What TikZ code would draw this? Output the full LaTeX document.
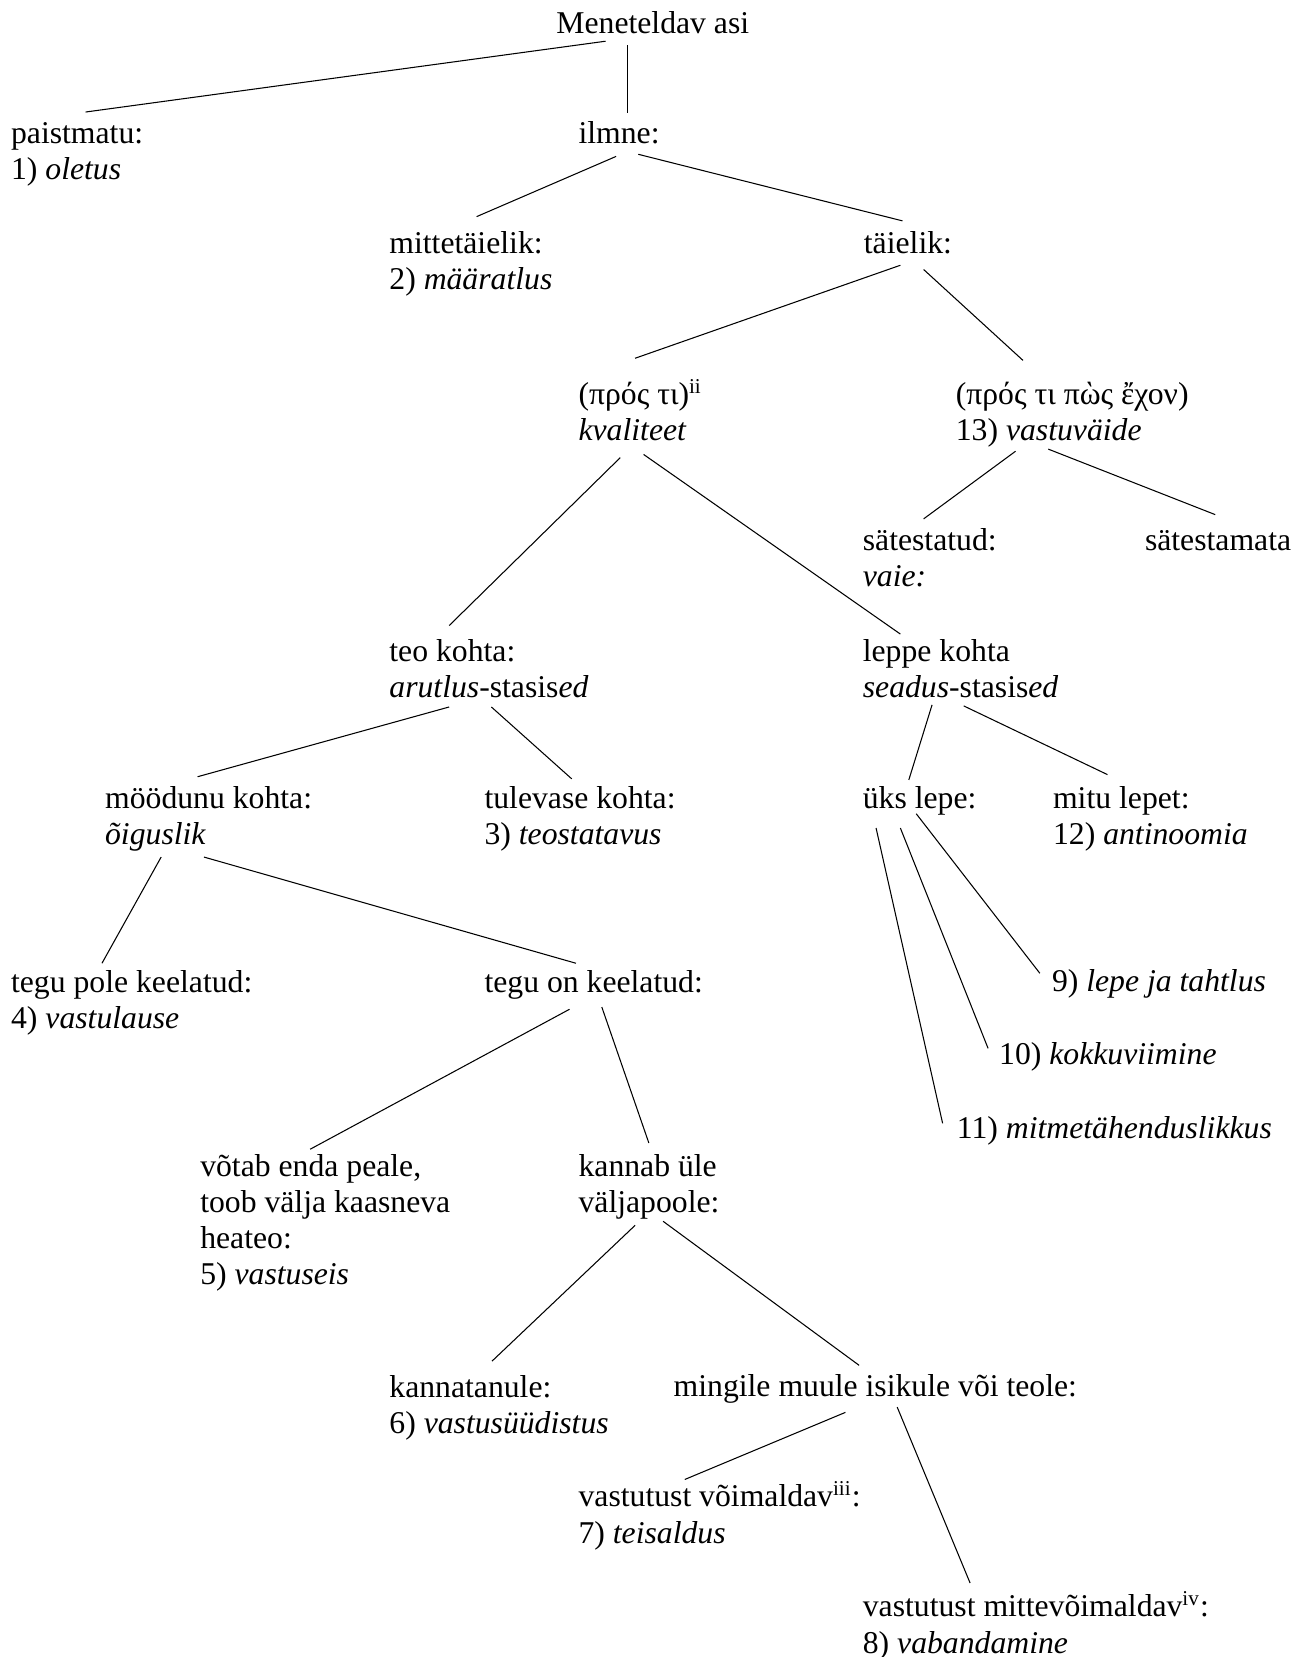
\documentclass[tikz,border=0pt]{standalone}
\usepackage{fontspec}
\setmainfont{Liberation Serif}
\usepackage{tikz}

\tikzset{
  lbl/.style={anchor=base west, inner sep=0pt, align=left, font=\fontsize{12pt}{13.7pt}\selectfont},
  branch/.style={line width=0.4pt}
}

\begin{document}
\begin{tikzpicture}[x=0.4pt, y=-0.4pt]
\useasboundingbox (0,0) rectangle (1238,1568);

\node at (526,31.5) (root)[lbl]{Meneteldav asi};
\node at (10,170.25) (paist)[lbl]{paistmatu:\\1) \textit{oletus}};
\node at (547,136) (ilmne)[lbl]{ilmne:};
\node at (368,273.75) (mitte)[lbl]{mittetäielik:\\2) \textit{määratlus}};
\node at (817,239.5) (taielik)[lbl]{täielik:};
\node at (547,417.25) (pros)[lbl]{(πρός τι)\textsuperscript{ii}\\\textit{kvaliteet}};
\node at (904,417.25) (prosekh)[lbl]{(πρός τι πὼς ἔχον)\\13) \textit{vastuväide}};
\node at (816,554.75) (satest)[lbl]{sätestatud:\\\textit{vaie:}};
\node at (1083,520.5) (satestam)[lbl]{sätestamata};
\node at (368,660.25) (teo)[lbl]{teo kohta:\\\textit{arutlus}-stasis\textit{ed}};
\node at (816,660.25) (leppe)[lbl]{leppe kohta\\\textit{seadus}-stasis\textit{ed}};
\node at (99,799.25) (mood)[lbl]{möödunu kohta:\\\textit{õiguslik}};
\node at (458,799.25) (tulev)[lbl]{tulevase kohta:\\3) \textit{teostatavus}};
\node at (816,765) (uks)[lbl]{üks lepe:};
\node at (996,799.25) (mitu)[lbl]{mitu lepet:\\12) \textit{antinoomia}};
\node at (10,973.25) (pole)[lbl]{tegu pole keelatud:\\4) \textit{vastulause}};
\node at (458,939) (onkeel)[lbl]{tegu on keelatud:};
\node at (995,938) (lepe9)[lbl]{9) \textit{lepe ja tahtlus}};
\node at (945,1007) (kokku)[lbl]{10) \textit{kokkuviimine}};
\node at (905,1077) (mitme)[lbl]{11) \textit{mitmetähenduslikkus}};
\node at (189,1215.75) (votab)[lbl]{võtab enda peale,\\toob välja kaasneva\\heateo:\\5) \textit{vastuseis}};
\node at (547,1147.25) (kannab)[lbl]{kannab üle\\väljapoole:};
\node at (368,1356.25) (kannat)[lbl]{kannatanule:\\6) \textit{vastusüüdistus}};
\node at (637,1321) (mingile)[lbl]{mingile muule isikule või teole:};
\node at (547,1460.25) (voimal)[lbl]{vastutust võimaldav\textsuperscript{iii}:\\7) \textit{teisaldus}};
\node at (816,1564.25) (mittevoim)[lbl]{vastutust mittevõimaldav\textsuperscript{iv}:\\8) \textit{vabandamine}};

\draw[branch] ([shift={(47,7.5)}]root.base west) -- ([shift={(71,-64.25)}]paist.base west);
\draw[branch] ([shift={(68,11.5)}]root.base west) -- ([shift={(47,-29)}]ilmne.base west);
\draw[branch] ([shift={(36,12)}]ilmne.base west) -- ([shift={(83,-68.75)}]mitte.base west);
\draw[branch] ([shift={(57,10)}]ilmne.base west) -- ([shift={(37,-30.5)}]taielik.base west);
\draw[branch] ([shift={(35,11.5)}]taielik.base west) -- ([shift={(54,-78.25)}]pros.base west);
\draw[branch] ([shift={(57,15.5)}]taielik.base west) -- ([shift={(64,-76.25)}]prosekh.base west);
\draw[branch] ([shift={(40,15.75)}]pros.base west) -- ([shift={(57,-68.25)}]teo.base west);
\draw[branch] ([shift={(62,12.75)}]pros.base west) -- ([shift={(36,-60.25)}]leppe.base west);
\draw[branch] ([shift={(57,9.75)}]prosekh.base west) -- ([shift={(58,-63.75)}]satest.base west);
\draw[branch] ([shift={(88,7.75)}]prosekh.base west) -- ([shift={(67,-33.5)}]satestam.base west);
\draw[branch] ([shift={(57,8.75)}]teo.base west) -- ([shift={(88,-64.25)}]mood.base west);
\draw[branch] ([shift={(97,8.75)}]teo.base west) -- ([shift={(83,-62.25)}]tulev.base west);
\draw[branch] ([shift={(66,6.75)}]leppe.base west) -- ([shift={(44,-27)}]uks.base west);
\draw[branch] ([shift={(96,7.75)}]leppe.base west) -- ([shift={(52,-66.25)}]mitu.base west);
\draw[branch] ([shift={(53.5,11.75)}]mood.base west) -- ([shift={(86.5,-61.75)}]pole.base west);
\draw[branch] ([shift={(94,11.75)}]mood.base west) -- ([shift={(87,-27.5)}]onkeel.base west);
\draw[branch] ([shift={(51,5)}]uks.base west) -- ([shift={(-11,-17)}]lepe9.base west);
\draw[branch] ([shift={(36,18.5)}]uks.base west) -- ([shift={(-10,-15)}]kokku.base west);
\draw[branch] ([shift={(13,18.5)}]uks.base west) -- ([shift={(-13,-14)}]mitme.base west);
\draw[branch] ([shift={(81,16)}]onkeel.base west) -- ([shift={(104.5,-128.25)}]votab.base west);
\draw[branch] ([shift={(111.5,14)}]onkeel.base west) -- ([shift={(67,-65.65)}]kannab.base west);
\draw[branch] ([shift={(54,12.25)}]kannab.base west) -- ([shift={(97.6,-68.25)}]kannat.base west);
\draw[branch] ([shift={(80.5,8.45)}]kannab.base west) -- ([shift={(176,-29)}]mingile.base west);
\draw[branch] ([shift={(163,15.5)}]mingile.base west) -- ([shift={(101,-60.25)}]voimal.base west);
\draw[branch] ([shift={(212,10.5)}]mingile.base west) -- ([shift={(102,-66.25)}]mittevoim.base west);
\end{tikzpicture}
\end{document}
